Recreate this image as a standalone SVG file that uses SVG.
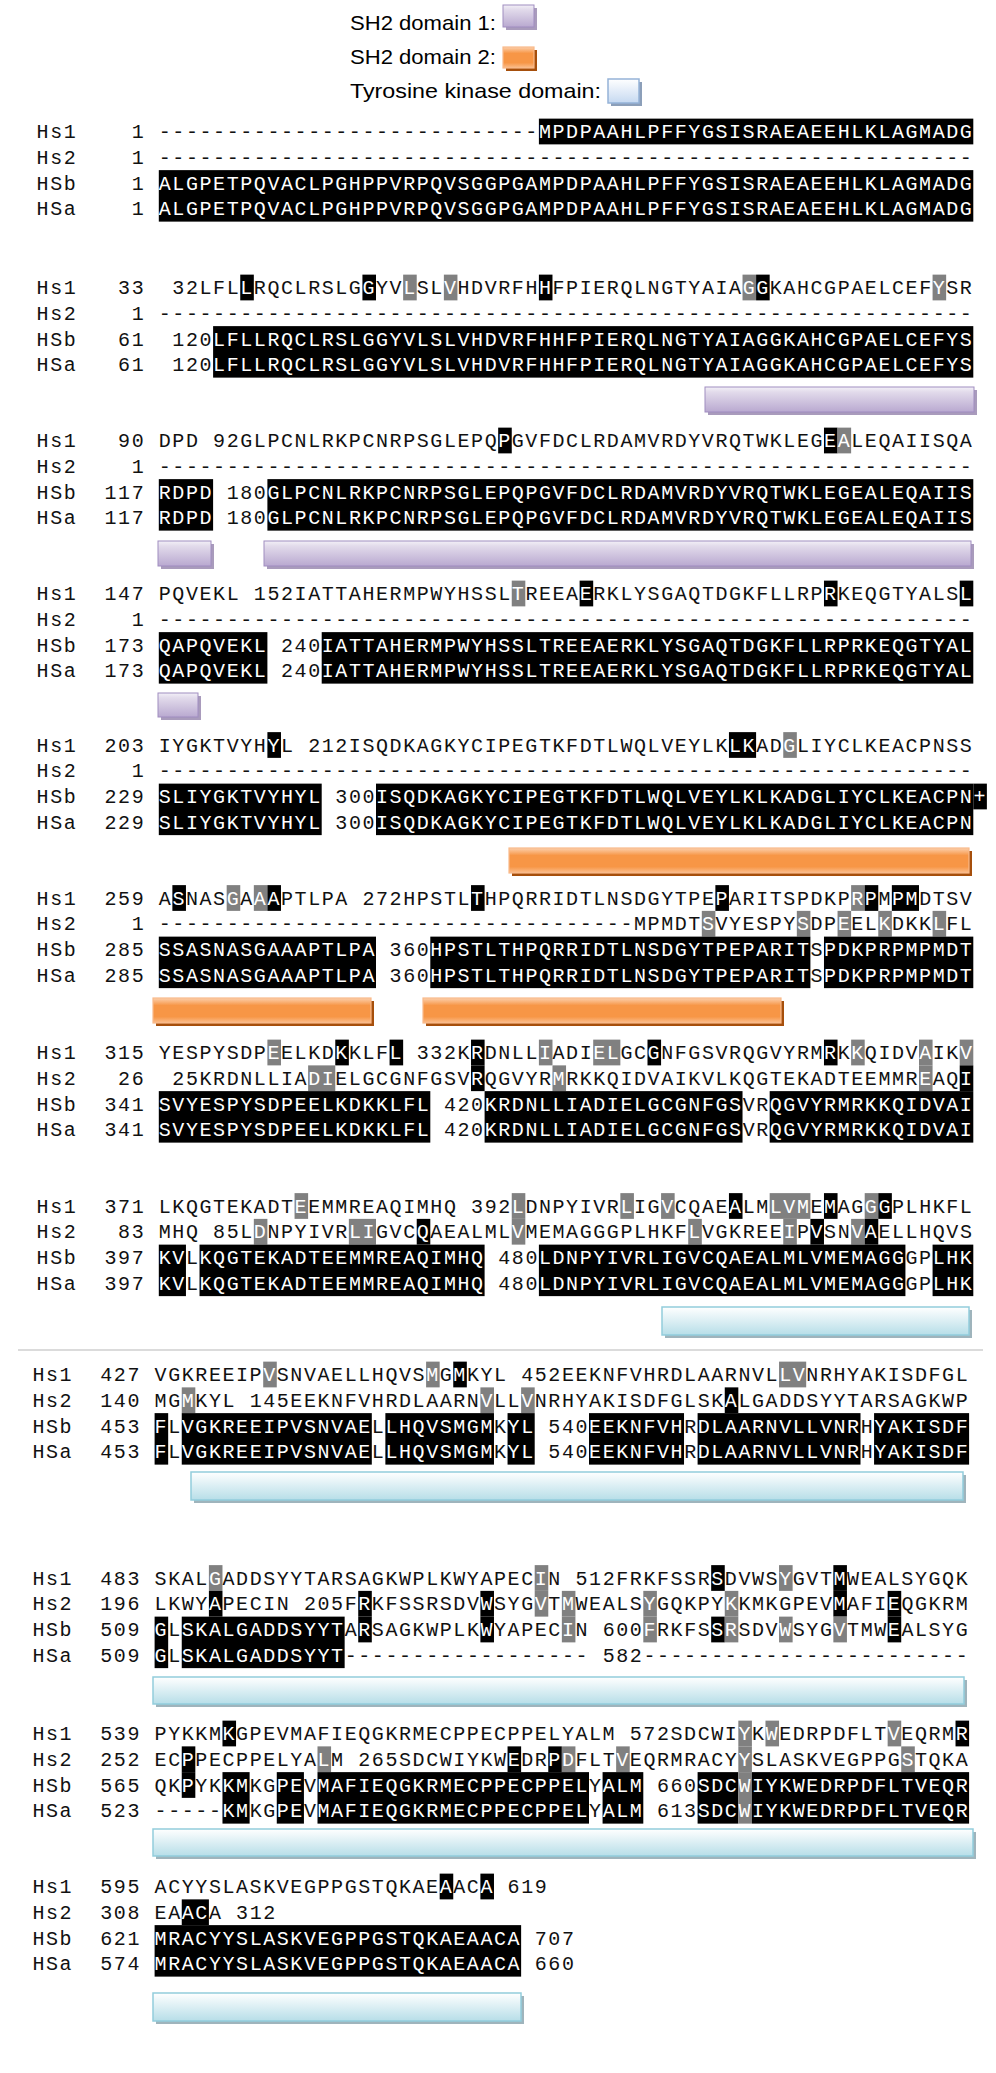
<svg xmlns="http://www.w3.org/2000/svg" width="996" height="2073" viewBox="0 0 996 2073">
<defs>
<style>
.t{font-family:"Liberation Mono","DejaVu Sans Mono",monospace;font-size:20px;letter-spacing:1.575px;fill:#111}
.w{fill:#fff}
.k{fill:#000}
.g{fill:#808080}
.lg{font-family:"Liberation Sans",Arial,sans-serif;font-size:21px;fill:#000}
.pb{fill:url(#gp);stroke:#a08dc0;stroke-width:1}
.ps{fill:#8c7aa6;opacity:.75}
.ob{fill:url(#go);stroke:#f9b98a;stroke-width:1.2}
.os{fill:#a64f0c}
.cb{fill:url(#gc);stroke:#92cddc;stroke-width:1.5}
.cs{fill:#8ea7b0;opacity:.85}
.bb{fill:url(#gb);stroke:#95b3d7;stroke-width:1.5}
.bs{fill:#8c9fb9}
</style>
<linearGradient id="gp" x1="0" y1="0" x2="0" y2="1"><stop offset="0" stop-color="#f3f0f7"/><stop offset="0.2" stop-color="#e2dbeb"/><stop offset="1" stop-color="#b9a9d0"/></linearGradient>
<linearGradient id="go" x1="0" y1="0" x2="0" y2="1"><stop offset="0" stop-color="#fcd0ad"/><stop offset="0.3" stop-color="#f79646"/><stop offset="0.75" stop-color="#f79646"/><stop offset="1" stop-color="#fbbf8f"/></linearGradient>
<linearGradient id="gc" x1="0" y1="0" x2="0" y2="1"><stop offset="0" stop-color="#ffffff"/><stop offset="1" stop-color="#b7dee8"/></linearGradient>
<linearGradient id="gb" x1="0" y1="0" x2="0" y2="1"><stop offset="0" stop-color="#ffffff"/><stop offset="1" stop-color="#c6d9f1"/></linearGradient>
</defs>
<rect width="996" height="2073" fill="#fff"/>

<g id="legend">
<text class="lg" x="350" y="30" textLength="146" lengthAdjust="spacingAndGlyphs">SH2 domain 1:</text>
<rect class="ps" x="506" y="8" width="31" height="22"/>
<rect class="pb" x="503" y="5" width="31" height="22"/>
<text class="lg" x="350" y="64" textLength="146" lengthAdjust="spacingAndGlyphs">SH2 domain 2:</text>
<rect class="os" x="506" y="50" width="31" height="21"/>
<rect class="ob" x="503" y="47" width="31" height="21"/>
<text class="lg" x="350" y="98" textLength="251" lengthAdjust="spacingAndGlyphs">Tyrosine kinase domain:</text>
<rect class="bs" x="611" y="82" width="31" height="24"/>
<rect class="bb" x="608" y="79" width="31" height="24"/>
</g>

<g id="domain-bars">
<rect class="ps" x="708" y="390" width="269" height="25"/><rect class="pb" x="705" y="387" width="269" height="25"/>
<rect class="ps" x="161" y="544" width="53" height="25"/><rect class="pb" x="158" y="541" width="53" height="25"/>
<rect class="ps" x="267" y="544" width="707" height="25"/><rect class="pb" x="264" y="541" width="707" height="25"/>
<rect class="ps" x="161" y="696" width="40" height="24"/><rect class="pb" x="158" y="693" width="40" height="24"/>
<rect class="os" x="512" y="851" width="460" height="25"/><rect class="ob" x="509" y="848" width="460" height="25"/>
<rect class="os" x="156" y="1001" width="218" height="25"/><rect class="ob" x="153" y="998" width="218" height="25"/>
<rect class="os" x="426" y="1001" width="358" height="25"/><rect class="ob" x="423" y="998" width="358" height="25"/>
<rect class="cs" x="665" y="1310" width="307" height="28"/><rect class="cb" x="662" y="1307" width="307" height="28"/>
<rect class="cs" x="194" y="1475" width="772" height="28"/><rect class="cb" x="191" y="1472" width="772" height="28"/>
<rect class="cs" x="156" y="1680" width="811" height="27"/><rect class="cb" x="153" y="1677" width="811" height="27"/>
<rect class="cs" x="156" y="1832" width="820" height="27"/><rect class="cb" x="153" y="1829" width="820" height="27"/>
<rect class="cs" x="156" y="1996" width="368" height="28"/><rect class="cb" x="153" y="1993" width="368" height="28"/>
</g>

<g id="separator"><line x1="18" y1="1350" x2="983" y2="1350" stroke="#cfcfcf" stroke-width="1.5"/></g>

<g id="block1" transform="translate(0 131.5)">
<g transform="translate(158.8 0) scale(13.575 1)">
<rect class="k" x="28" y="-12.875" width="32" height="25.75"/>
<rect class="k" x="0" y="38.625" width="60" height="51.5"/>
</g>
<text class="t" x="36.6" y="6.6" xml:space="preserve">Hs1    1 ----------------------------<tspan class="w">MPDPAAHLPFFYGSISRAEAEEHLKLAGMADG</tspan></text>
<text class="t" x="36.6" y="32.35" xml:space="preserve">Hs2    1 ------------------------------------------------------------</text>
<text class="t" x="36.6" y="58.1" xml:space="preserve">HSb    1 <tspan class="w">ALGPETPQVACLPGHPPVRPQVSGGPGAMPDPAAHLPFFYGSISRAEAEEHLKLAGMADG</tspan></text>
<text class="t" x="36.6" y="83.85" xml:space="preserve">HSa    1 <tspan class="w">ALGPETPQVACLPGHPPVRPQVSGGPGAMPDPAAHLPFFYGSISRAEAEEHLKLAGMADG</tspan></text>
</g>

<g id="block2" transform="translate(0 287.5)">
<g transform="translate(158.8 0) scale(13.575 1)">
<rect class="k" x="6" y="-12.875" width="1" height="25.75"/>
<rect class="k" x="15" y="-12.875" width="1" height="25.75"/>
<rect class="g" x="18" y="-12.875" width="1" height="25.75"/>
<rect class="g" x="21" y="-12.875" width="1" height="25.75"/>
<rect class="k" x="28" y="-12.875" width="1" height="25.75"/>
<rect class="g" x="43" y="-12.875" width="1" height="25.75"/>
<rect class="k" x="44" y="-12.875" width="1" height="25.75"/>
<rect class="g" x="57" y="-12.875" width="1" height="25.75"/>
<rect class="k" x="4" y="38.625" width="56" height="51.5"/>
</g>
<text class="t" x="36.6" y="6.6" xml:space="preserve">Hs1   33  32LFL<tspan class="w">L</tspan>RQCLRSLG<tspan class="w">G</tspan>YV<tspan class="w">L</tspan>SL<tspan class="w">V</tspan>HDVRFH<tspan class="w">H</tspan>FPIERQLNGTYAIA<tspan class="w">GG</tspan>KAHCGPAELCEF<tspan class="w">Y</tspan>SR</text>
<text class="t" x="36.6" y="32.35" xml:space="preserve">Hs2    1 ------------------------------------------------------------</text>
<text class="t" x="36.6" y="58.1" xml:space="preserve">HSb   61  120<tspan class="w">LFLLRQCLRSLGGYVLSLVHDVRFHHFPIERQLNGTYAIAGGKAHCGPAELCEFYS</tspan></text>
<text class="t" x="36.6" y="83.85" xml:space="preserve">HSa   61  120<tspan class="w">LFLLRQCLRSLGGYVLSLVHDVRFHHFPIERQLNGTYAIAGGKAHCGPAELCEFYS</tspan></text>
</g>

<g id="block3" transform="translate(0 440.5)">
<g transform="translate(158.8 0) scale(13.575 1)">
<rect class="k" x="25" y="-12.875" width="1" height="25.75"/>
<rect class="k" x="49" y="-12.875" width="1" height="25.75"/>
<rect class="g" x="50" y="-12.875" width="1" height="25.75"/>
<rect class="k" x="0" y="38.625" width="4" height="51.5"/>
<rect class="k" x="8" y="38.625" width="52" height="51.5"/>
</g>
<text class="t" x="36.6" y="6.6" xml:space="preserve">Hs1   90 DPD 92GLPCNLRKPCNRPSGLEPQ<tspan class="w">P</tspan>GVFDCLRDAMVRDYVRQTWKLEG<tspan class="w">EA</tspan>LEQAIISQA</text>
<text class="t" x="36.6" y="32.35" xml:space="preserve">Hs2    1 ------------------------------------------------------------</text>
<text class="t" x="36.6" y="58.1" xml:space="preserve">HSb  117 <tspan class="w">RDPD</tspan> 180<tspan class="w">GLPCNLRKPCNRPSGLEPQPGVFDCLRDAMVRDYVRQTWKLEGEALEQAIIS</tspan></text>
<text class="t" x="36.6" y="83.85" xml:space="preserve">HSa  117 <tspan class="w">RDPD</tspan> 180<tspan class="w">GLPCNLRKPCNRPSGLEPQPGVFDCLRDAMVRDYVRQTWKLEGEALEQAIIS</tspan></text>
</g>

<g id="block4" transform="translate(0 593.5)">
<g transform="translate(158.8 0) scale(13.575 1)">
<rect class="g" x="26" y="-12.875" width="1" height="25.75"/>
<rect class="k" x="31" y="-12.875" width="1" height="25.75"/>
<rect class="k" x="49" y="-12.875" width="1" height="25.75"/>
<rect class="k" x="59" y="-12.875" width="1" height="25.75"/>
<rect class="k" x="0" y="38.625" width="8" height="51.5"/>
<rect class="k" x="12" y="38.625" width="48" height="51.5"/>
</g>
<text class="t" x="36.6" y="6.6" xml:space="preserve">Hs1  147 PQVEKL 152IATTAHERMPWYHSSL<tspan class="w">T</tspan>REEA<tspan class="w">E</tspan>RKLYSGAQTDGKFLLRP<tspan class="w">R</tspan>KEQGTYALS<tspan class="w">L</tspan></text>
<text class="t" x="36.6" y="32.35" xml:space="preserve">Hs2    1 ------------------------------------------------------------</text>
<text class="t" x="36.6" y="58.1" xml:space="preserve">HSb  173 <tspan class="w">QAPQVEKL</tspan> 240<tspan class="w">IATTAHERMPWYHSSLTREEAERKLYSGAQTDGKFLLRPRKEQGTYAL</tspan></text>
<text class="t" x="36.6" y="83.85" xml:space="preserve">HSa  173 <tspan class="w">QAPQVEKL</tspan> 240<tspan class="w">IATTAHERMPWYHSSLTREEAERKLYSGAQTDGKFLLRPRKEQGTYAL</tspan></text>
</g>

<g id="block5" transform="translate(0 745)">
<g transform="translate(158.8 0) scale(13.575 1)">
<rect class="k" x="8" y="-12.875" width="1" height="25.75"/>
<rect class="k" x="42" y="-12.875" width="2" height="25.75"/>
<rect class="g" x="46" y="-12.875" width="1" height="25.75"/>
<rect class="k" x="0" y="38.625" width="12" height="51.5"/>
<rect class="k" x="16" y="38.625" width="44" height="51.5"/>
<rect class="k" x="60" y="38.625" width="1" height="25.75"/>
</g>
<text class="t" x="36.6" y="6.6" xml:space="preserve">Hs1  203 IYGKTVYH<tspan class="w">Y</tspan>L 212ISQDKAGKYCIPEGTKFDTLWQLVEYLK<tspan class="w">LK</tspan>AD<tspan class="w">G</tspan>LIYCLKEACPNSS</text>
<text class="t" x="36.6" y="32.35" xml:space="preserve">Hs2    1 ------------------------------------------------------------</text>
<text class="t" x="36.6" y="58.1" xml:space="preserve">HSb  229 <tspan class="w">SLIYGKTVYHYL</tspan> 300<tspan class="w">ISQDKAGKYCIPEGTKFDTLWQLVEYLKLKADGLIYCLKEACPN+</tspan></text>
<text class="t" x="36.6" y="83.85" xml:space="preserve">HSa  229 <tspan class="w">SLIYGKTVYHYL</tspan> 300<tspan class="w">ISQDKAGKYCIPEGTKFDTLWQLVEYLKLKADGLIYCLKEACPN</tspan></text>
</g>

<g id="block6" transform="translate(0 898)">
<g transform="translate(158.8 0) scale(13.575 1)">
<rect class="k" x="1" y="-12.875" width="1" height="25.75"/>
<rect class="g" x="5" y="-12.875" width="1" height="25.75"/>
<rect class="g" x="7" y="-12.875" width="1" height="25.75"/>
<rect class="k" x="8" y="-12.875" width="1" height="25.75"/>
<rect class="k" x="23" y="-12.875" width="1" height="25.75"/>
<rect class="k" x="41" y="-12.875" width="1" height="25.75"/>
<rect class="g" x="51" y="-12.875" width="1" height="25.75"/>
<rect class="k" x="52" y="-12.875" width="1" height="25.75"/>
<rect class="k" x="54" y="-12.875" width="2" height="25.75"/>
<rect class="g" x="40" y="12.875" width="1" height="25.75"/>
<rect class="g" x="47" y="12.875" width="1" height="25.75"/>
<rect class="g" x="50" y="12.875" width="1" height="25.75"/>
<rect class="g" x="53" y="12.875" width="1" height="25.75"/>
<rect class="g" x="57" y="12.875" width="1" height="25.75"/>
<rect class="k" x="0" y="38.625" width="16" height="51.5"/>
<rect class="k" x="20" y="38.625" width="28" height="51.5"/>
<rect class="k" x="49" y="38.625" width="11" height="51.5"/>
</g>
<text class="t" x="36.6" y="6.6" xml:space="preserve">Hs1  259 A<tspan class="w">S</tspan>NAS<tspan class="w">G</tspan>A<tspan class="w">AA</tspan>PTLPA 272HPSTL<tspan class="w">T</tspan>HPQRRIDTLNSDGYTPE<tspan class="w">P</tspan>ARITSPDKP<tspan class="w">RP</tspan>M<tspan class="w">PM</tspan>DTSV</text>
<text class="t" x="36.6" y="32.35" xml:space="preserve">Hs2    1 -----------------------------------MPMDT<tspan class="w">S</tspan>VYESPY<tspan class="w">S</tspan>DP<tspan class="w">E</tspan>EL<tspan class="w">K</tspan>DKK<tspan class="w">L</tspan>FL</text>
<text class="t" x="36.6" y="58.1" xml:space="preserve">HSb  285 <tspan class="w">SSASNASGAAAPTLPA</tspan> 360<tspan class="w">HPSTLTHPQRRIDTLNSDGYTPEPARIT</tspan>S<tspan class="w">PDKPRPMPMDT</tspan></text>
<text class="t" x="36.6" y="83.85" xml:space="preserve">HSa  285 <tspan class="w">SSASNASGAAAPTLPA</tspan> 360<tspan class="w">HPSTLTHPQRRIDTLNSDGYTPEPARIT</tspan>S<tspan class="w">PDKPRPMPMDT</tspan></text>
</g>

<g id="block7" transform="translate(0 1052.5)">
<g transform="translate(158.8 0) scale(13.575 1)">
<rect class="g" x="8" y="-12.875" width="1" height="25.75"/>
<rect class="k" x="13" y="-12.875" width="1" height="25.75"/>
<rect class="k" x="17" y="-12.875" width="1" height="25.75"/>
<rect class="k" x="23" y="-12.875" width="1" height="25.75"/>
<rect class="g" x="28" y="-12.875" width="1" height="25.75"/>
<rect class="g" x="32" y="-12.875" width="2" height="25.75"/>
<rect class="k" x="36" y="-12.875" width="1" height="25.75"/>
<rect class="k" x="49" y="-12.875" width="1" height="25.75"/>
<rect class="g" x="51" y="-12.875" width="1" height="25.75"/>
<rect class="g" x="56" y="-12.875" width="1" height="25.75"/>
<rect class="g" x="59" y="-12.875" width="1" height="25.75"/>
<rect class="g" x="11" y="12.875" width="2" height="25.75"/>
<rect class="k" x="23" y="12.875" width="1" height="25.75"/>
<rect class="g" x="29" y="12.875" width="1" height="25.75"/>
<rect class="g" x="56" y="12.875" width="1" height="25.75"/>
<rect class="k" x="59" y="12.875" width="1" height="25.75"/>
<rect class="k" x="0" y="38.625" width="20" height="51.5"/>
<rect class="k" x="24" y="38.625" width="19" height="51.5"/>
<rect class="k" x="45" y="38.625" width="15" height="51.5"/>
</g>
<text class="t" x="36.6" y="6.6" xml:space="preserve">Hs1  315 YESPYSDP<tspan class="w">E</tspan>ELKD<tspan class="w">K</tspan>KLF<tspan class="w">L</tspan> 332K<tspan class="w">R</tspan>DNLL<tspan class="w">I</tspan>ADI<tspan class="w">EL</tspan>GC<tspan class="w">G</tspan>NFGSVRQGVYRM<tspan class="w">R</tspan>K<tspan class="w">K</tspan>QIDV<tspan class="w">A</tspan>IK<tspan class="w">V</tspan></text>
<text class="t" x="36.6" y="32.35" xml:space="preserve">Hs2   26  25KRDNLLIA<tspan class="w">DI</tspan>ELGCGNFGSV<tspan class="w">R</tspan>QGVYR<tspan class="w">M</tspan>RKKQIDVAIKVLKQGTEKADTEEMMR<tspan class="w">E</tspan>AQ<tspan class="w">I</tspan></text>
<text class="t" x="36.6" y="58.1" xml:space="preserve">HSb  341 <tspan class="w">SVYESPYSDPEELKDKKLFL</tspan> 420<tspan class="w">KRDNLLIADIELGCGNFGS</tspan>VR<tspan class="w">QGVYRMRKKQIDVAI</tspan></text>
<text class="t" x="36.6" y="83.85" xml:space="preserve">HSa  341 <tspan class="w">SVYESPYSDPEELKDKKLFL</tspan> 420<tspan class="w">KRDNLLIADIELGCGNFGS</tspan>VR<tspan class="w">QGVYRMRKKQIDVAI</tspan></text>
</g>

<g id="block8" transform="translate(0 1206)">
<g transform="translate(158.8 0) scale(13.575 1)">
<rect class="g" x="10" y="-12.875" width="1" height="25.75"/>
<rect class="g" x="26" y="-12.875" width="1" height="25.75"/>
<rect class="g" x="34" y="-12.875" width="1" height="25.75"/>
<rect class="g" x="37" y="-12.875" width="1" height="25.75"/>
<rect class="k" x="42" y="-12.875" width="1" height="25.75"/>
<rect class="g" x="45" y="-12.875" width="3" height="25.75"/>
<rect class="k" x="49" y="-12.875" width="1" height="25.75"/>
<rect class="g" x="52" y="-12.875" width="1" height="25.75"/>
<rect class="k" x="53" y="-12.875" width="1" height="25.75"/>
<rect class="g" x="7" y="12.875" width="1" height="25.75"/>
<rect class="g" x="14" y="12.875" width="2" height="25.75"/>
<rect class="k" x="19" y="12.875" width="1" height="25.75"/>
<rect class="g" x="26" y="12.875" width="1" height="25.75"/>
<rect class="g" x="39" y="12.875" width="1" height="25.75"/>
<rect class="g" x="46" y="12.875" width="1" height="25.75"/>
<rect class="k" x="48" y="12.875" width="1" height="25.75"/>
<rect class="g" x="51" y="12.875" width="1" height="25.75"/>
<rect class="k" x="52" y="12.875" width="1" height="25.75"/>
<rect class="k" x="0" y="38.625" width="2" height="51.5"/>
<rect class="k" x="3" y="38.625" width="21" height="51.5"/>
<rect class="k" x="28" y="38.625" width="27" height="51.5"/>
<rect class="k" x="57" y="38.625" width="3" height="51.5"/>
</g>
<text class="t" x="36.6" y="6.6" xml:space="preserve">Hs1  371 LKQGTEKADT<tspan class="w">E</tspan>EMMREAQIMHQ 392<tspan class="w">L</tspan>DNPYIVR<tspan class="w">L</tspan>IG<tspan class="w">V</tspan>CQAE<tspan class="w">A</tspan>LM<tspan class="w">LVM</tspan>E<tspan class="w">M</tspan>AG<tspan class="w">GG</tspan>PLHKFL</text>
<text class="t" x="36.6" y="32.35" xml:space="preserve">Hs2   83 MHQ 85L<tspan class="w">D</tspan>NPYIVR<tspan class="w">LI</tspan>GVC<tspan class="w">Q</tspan>AEALML<tspan class="w">V</tspan>MEMAGGGPLHKF<tspan class="w">L</tspan>VGKREE<tspan class="w">I</tspan>P<tspan class="w">V</tspan>SN<tspan class="w">VA</tspan>ELLHQVS</text>
<text class="t" x="36.6" y="58.1" xml:space="preserve">HSb  397 <tspan class="w">KV</tspan>L<tspan class="w">KQGTEKADTEEMMREAQIMHQ</tspan> 480<tspan class="w">LDNPYIVRLIGVCQAEALMLVMEMAGG</tspan>GP<tspan class="w">LHK</tspan></text>
<text class="t" x="36.6" y="83.85" xml:space="preserve">HSa  397 <tspan class="w">KV</tspan>L<tspan class="w">KQGTEKADTEEMMREAQIMHQ</tspan> 480<tspan class="w">LDNPYIVRLIGVCQAEALMLVMEMAGG</tspan>GP<tspan class="w">LHK</tspan></text>
</g>

<g id="block9" transform="translate(0 1374.5)">
<g transform="translate(154.6 0) scale(13.575 1)">
<rect class="g" x="8" y="-12.875" width="1" height="25.75"/>
<rect class="g" x="20" y="-12.875" width="1" height="25.75"/>
<rect class="k" x="22" y="-12.875" width="1" height="25.75"/>
<rect class="g" x="46" y="-12.875" width="2" height="25.75"/>
<rect class="g" x="2" y="12.875" width="1" height="25.75"/>
<rect class="g" x="24" y="12.875" width="1" height="25.75"/>
<rect class="g" x="27" y="12.875" width="1" height="25.75"/>
<rect class="k" x="42" y="12.875" width="1" height="25.75"/>
<rect class="k" x="0" y="38.625" width="1" height="51.5"/>
<rect class="k" x="2" y="38.625" width="14" height="51.5"/>
<rect class="k" x="17" y="38.625" width="8" height="51.5"/>
<rect class="k" x="26" y="38.625" width="2" height="51.5"/>
<rect class="k" x="32" y="38.625" width="7" height="51.5"/>
<rect class="k" x="40" y="38.625" width="12" height="51.5"/>
<rect class="k" x="53" y="38.625" width="7" height="51.5"/>
</g>
<text class="t" x="32.4" y="6.6" xml:space="preserve">Hs1  427 VGKREEIP<tspan class="w">V</tspan>SNVAELLHQVS<tspan class="w">M</tspan>G<tspan class="w">M</tspan>KYL 452EEKNFVHRDLAARNVL<tspan class="w">LV</tspan>NRHYAKISDFGL</text>
<text class="t" x="32.4" y="32.35" xml:space="preserve">Hs2  140 MG<tspan class="w">M</tspan>KYL 145EEKNFVHRDLAARN<tspan class="w">V</tspan>LL<tspan class="w">V</tspan>NRHYAKISDFGLSK<tspan class="w">A</tspan>LGADDSYYTARSAGKWP</text>
<text class="t" x="32.4" y="58.1" xml:space="preserve">HSb  453 <tspan class="w">F</tspan>L<tspan class="w">VGKREEIPVSNVAE</tspan>L<tspan class="w">LHQVSMGM</tspan>K<tspan class="w">YL</tspan> 540<tspan class="w">EEKNFVH</tspan>R<tspan class="w">DLAARNVLLVNR</tspan>H<tspan class="w">YAKISDF</tspan></text>
<text class="t" x="32.4" y="83.85" xml:space="preserve">HSa  453 <tspan class="w">F</tspan>L<tspan class="w">VGKREEIPVSNVAE</tspan>L<tspan class="w">LHQVSMGM</tspan>K<tspan class="w">YL</tspan> 540<tspan class="w">EEKNFVH</tspan>R<tspan class="w">DLAARNVLLVNR</tspan>H<tspan class="w">YAKISDF</tspan></text>
</g>

<g id="block10" transform="translate(0 1578)">
<g transform="translate(154.6 0) scale(13.575 1)">
<rect class="g" x="4" y="-12.875" width="1" height="25.75"/>
<rect class="g" x="28" y="-12.875" width="1" height="25.75"/>
<rect class="k" x="41" y="-12.875" width="1" height="25.75"/>
<rect class="g" x="46" y="-12.875" width="1" height="25.75"/>
<rect class="k" x="50" y="-12.875" width="1" height="25.75"/>
<rect class="k" x="4" y="12.875" width="1" height="25.75"/>
<rect class="k" x="15" y="12.875" width="1" height="25.75"/>
<rect class="k" x="24" y="12.875" width="1" height="25.75"/>
<rect class="g" x="28" y="12.875" width="1" height="25.75"/>
<rect class="g" x="30" y="12.875" width="1" height="25.75"/>
<rect class="g" x="36" y="12.875" width="1" height="25.75"/>
<rect class="g" x="42" y="12.875" width="1" height="25.75"/>
<rect class="k" x="50" y="12.875" width="1" height="25.75"/>
<rect class="k" x="54" y="12.875" width="1" height="25.75"/>
<rect class="k" x="0" y="38.625" width="1" height="51.5"/>
<rect class="k" x="2" y="38.625" width="12" height="51.5"/>
<rect class="k" x="15" y="38.625" width="1" height="25.75"/>
<rect class="k" x="24" y="38.625" width="1" height="25.75"/>
<rect class="g" x="30" y="38.625" width="1" height="25.75"/>
<rect class="g" x="36" y="38.625" width="1" height="25.75"/>
<rect class="k" x="41" y="38.625" width="1" height="25.75"/>
<rect class="g" x="42" y="38.625" width="1" height="25.75"/>
<rect class="g" x="46" y="38.625" width="1" height="25.75"/>
<rect class="g" x="50" y="38.625" width="1" height="25.75"/>
<rect class="k" x="54" y="38.625" width="1" height="25.75"/>
</g>
<text class="t" x="32.4" y="6.6" xml:space="preserve">Hs1  483 SKAL<tspan class="w">G</tspan>ADDSYYTARSAGKWPLKWYAPEC<tspan class="w">I</tspan>N 512FRKFSSR<tspan class="w">S</tspan>DVWS<tspan class="w">Y</tspan>GVT<tspan class="w">M</tspan>WEALSYGQK</text>
<text class="t" x="32.4" y="32.35" xml:space="preserve">Hs2  196 LKWY<tspan class="w">A</tspan>PECIN 205F<tspan class="w">R</tspan>KFSSRSDV<tspan class="w">W</tspan>SYG<tspan class="w">V</tspan>T<tspan class="w">M</tspan>WEALS<tspan class="w">Y</tspan>GQKPY<tspan class="w">K</tspan>KMKGPEV<tspan class="w">M</tspan>AFI<tspan class="w">E</tspan>QGKRM</text>
<text class="t" x="32.4" y="58.1" xml:space="preserve">HSb  509 <tspan class="w">G</tspan>L<tspan class="w">SKALGADDSYYT</tspan>A<tspan class="w">R</tspan>SAGKWPLK<tspan class="w">W</tspan>YAPEC<tspan class="w">I</tspan>N 600<tspan class="w">F</tspan>RKFS<tspan class="w">SR</tspan>SDV<tspan class="w">W</tspan>SYG<tspan class="w">V</tspan>TMW<tspan class="w">E</tspan>ALSYG</text>
<text class="t" x="32.4" y="83.85" xml:space="preserve">HSa  509 <tspan class="w">G</tspan>L<tspan class="w">SKALGADDSYYT</tspan>------------------ 582------------------------</text>
</g>

<g id="block11" transform="translate(0 1733.5)">
<g transform="translate(154.6 0) scale(13.575 1)">
<rect class="k" x="5" y="-12.875" width="1" height="25.75"/>
<rect class="g" x="43" y="-12.875" width="1" height="25.75"/>
<rect class="g" x="45" y="-12.875" width="1" height="25.75"/>
<rect class="g" x="54" y="-12.875" width="1" height="25.75"/>
<rect class="k" x="59" y="-12.875" width="1" height="25.75"/>
<rect class="k" x="2" y="12.875" width="1" height="25.75"/>
<rect class="g" x="12" y="12.875" width="1" height="25.75"/>
<rect class="k" x="26" y="12.875" width="1" height="25.75"/>
<rect class="k" x="29" y="12.875" width="1" height="25.75"/>
<rect class="g" x="30" y="12.875" width="1" height="25.75"/>
<rect class="g" x="34" y="12.875" width="1" height="25.75"/>
<rect class="g" x="43" y="12.875" width="1" height="25.75"/>
<rect class="g" x="55" y="12.875" width="1" height="25.75"/>
<rect class="k" x="2" y="38.625" width="1" height="25.75"/>
<rect class="k" x="5" y="38.625" width="2" height="51.5"/>
<rect class="k" x="9" y="38.625" width="2" height="51.5"/>
<rect class="k" x="12" y="38.625" width="20" height="51.5"/>
<rect class="k" x="33" y="38.625" width="3" height="51.5"/>
<rect class="k" x="40" y="38.625" width="3" height="51.5"/>
<rect class="g" x="43" y="38.625" width="1" height="51.5"/>
<rect class="k" x="44" y="38.625" width="16" height="51.5"/>
</g>
<text class="t" x="32.4" y="6.6" xml:space="preserve">Hs1  539 PYKKM<tspan class="w">K</tspan>GPEVMAFIEQGKRMECPPECPPELYALM 572SDCWI<tspan class="w">Y</tspan>K<tspan class="w">W</tspan>EDRPDFLT<tspan class="w">V</tspan>EQRM<tspan class="w">R</tspan></text>
<text class="t" x="32.4" y="32.35" xml:space="preserve">Hs2  252 EC<tspan class="w">P</tspan>PECPPELYA<tspan class="w">L</tspan>M 265SDCWIYKW<tspan class="w">E</tspan>DR<tspan class="w">PD</tspan>FLT<tspan class="w">V</tspan>EQRMRACY<tspan class="w">Y</tspan>SLASKVEGPPG<tspan class="w">S</tspan>TQKA</text>
<text class="t" x="32.4" y="58.1" xml:space="preserve">HSb  565 QK<tspan class="w">P</tspan>YK<tspan class="w">KM</tspan>KG<tspan class="w">PE</tspan>V<tspan class="w">MAFIEQGKRMECPPECPPEL</tspan>Y<tspan class="w">ALM</tspan> 660<tspan class="w">SDCWIYKWEDRPDFLTVEQR</tspan></text>
<text class="t" x="32.4" y="83.85" xml:space="preserve">HSa  523 -----<tspan class="w">KM</tspan>KG<tspan class="w">PE</tspan>V<tspan class="w">MAFIEQGKRMECPPECPPEL</tspan>Y<tspan class="w">ALM</tspan> 613<tspan class="w">SDCWIYKWEDRPDFLTVEQR</tspan></text>
</g>

<g id="block12" transform="translate(0 1886.5)">
<g transform="translate(154.6 0) scale(13.575 1)">
<rect class="k" x="21" y="-12.875" width="1" height="25.75"/>
<rect class="k" x="24" y="-12.875" width="1" height="25.75"/>
<rect class="k" x="2" y="12.875" width="2" height="25.75"/>
<rect class="k" x="0" y="38.625" width="27" height="51.5"/>
</g>
<text class="t" x="32.4" y="6.6" xml:space="preserve">Hs1  595 ACYYSLASKVEGPPGSTQKAE<tspan class="w">A</tspan>AC<tspan class="w">A</tspan> 619</text>
<text class="t" x="32.4" y="32.35" xml:space="preserve">Hs2  308 EA<tspan class="w">AC</tspan>A 312</text>
<text class="t" x="32.4" y="58.1" xml:space="preserve">HSb  621 <tspan class="w">MRACYYSLASKVEGPPGSTQKAEAACA</tspan> 707</text>
<text class="t" x="32.4" y="83.85" xml:space="preserve">HSa  574 <tspan class="w">MRACYYSLASKVEGPPGSTQKAEAACA</tspan> 660</text>
</g>
</svg>
